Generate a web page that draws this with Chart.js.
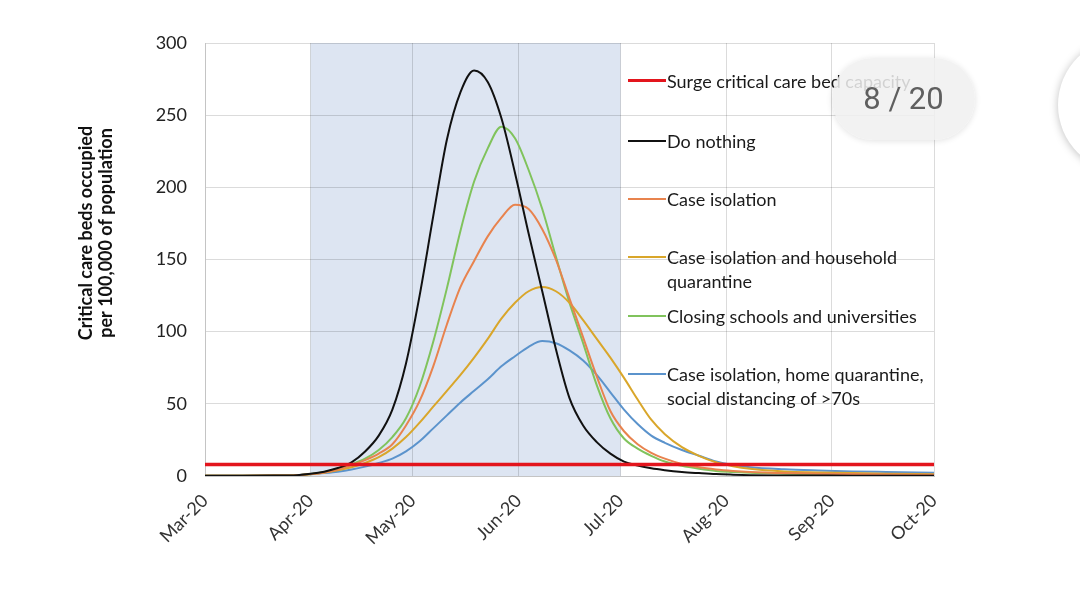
<!DOCTYPE html>
<html>
<head>
<meta charset="utf-8">
<script src="https://cdn.jsdelivr.net/npm/chart.js@4.4.0/dist/chart.umd.min.js"></script>
<style>
  body { margin: 0; background: #fff; width: 1080px; height: 603px; overflow: hidden; position: relative; font-family: Lato, 'Noto Sans', sans-serif; }
  #chart { position: absolute; left: 0; top: 0; }
  .item { position: absolute; left: 628px; color: #1a1a1a; font-size: 18px; line-height: 24px; white-space: nowrap; }
  .item .mark { position: absolute; left: 0; top: 11px; width: 38px; height: 2px; }
  .item .txt { position: absolute; left: 39px; top: 0; }
  #badge { position: absolute; left: 832px; top: 58px; width: 143px; height: 82px; border-radius: 41px;
           background: rgba(240,240,240,0.86); box-shadow: 0 1px 6px rgba(0,0,0,0.12);
           font-family: Roboto, sans-serif; font-size: 31px; color: #5f5f5f; text-align: center; line-height: 82px; }
  #knob { position: absolute; left: 1058px; top: 38px; width: 134px; height: 134px; border-radius: 50%;
          background: #fff; box-shadow: 0 1px 8px rgba(0,0,0,0.25); }
</style>
</head>
<body>
<canvas id="chart" width="1080" height="603"></canvas>
<div id="legend"></div>
<div id="badge">8 / 20</div>
<div id="knob"></div>
<script>
// x axis: days since 1 March 2020
const monthLabels = ['Mar-20', 'Apr-20', 'May-20', 'Jun-20', 'Jul-20', 'Aug-20', 'Sep-20', 'Oct-20'];
const monthDays = [0, 31, 61, 92, 122, 153, 184, 214];

// shaded period (Apr-20 to Jul-20)
const shadeStart = 31;
const shadeEnd = 122;

const surgeCapacity = 8;

const days = [0, 10, 20, 27, 31, 35, 39, 43, 47, 51, 55, 59, 63, 67, 71, 75, 79, 83, 87, 91, 95,
  99, 103, 107, 111, 115, 119, 123, 127, 131, 135, 140, 145, 150, 155, 160, 170, 180, 190, 200, 214];

const doNothing = [0.2, 0.2, 0.3, 0.6, 1.5, 3, 5.5, 9.5, 17, 28, 46, 78, 125, 180, 233, 266, 281, 273, 248, 210, 168,
  128, 88, 54, 35, 23.5, 15.5, 10, 7.3, 5.3, 4, 2.8, 2, 1.3, 0.9, 0.6, 0.4, 0.3, 0.2, 0.2, 0.1];

const caseIsolation = [0.2, 0.2, 0.3, 0.6, 1.3, 2.5, 4.5, 7.5, 11, 15.5, 22, 35, 52, 76, 105, 131, 149, 166, 179, 188, 185,
  171, 150, 123, 96, 69, 45, 31, 22, 16, 12, 8.3, 6, 4.5, 3.5, 2.8, 2, 1.6, 1.3, 1, 0.8];

const householdQuarantine = [0.2, 0.2, 0.3, 0.6, 1.2, 2.3, 4, 6, 9, 13, 19, 27, 37, 48, 59, 70, 82, 95, 109, 120, 128,
  131, 128, 120, 108, 95, 82, 68, 53, 39, 29, 20, 14, 9.5, 6.8, 5, 3.2, 2.5, 2, 1.6, 1.2];

const closingSchools = [0.2, 0.2, 0.3, 0.6, 1.4, 2.8, 5, 8, 12, 18, 27, 40, 62, 93, 130, 170, 204, 227, 242, 234, 212,
  185, 152, 120, 92, 63, 40, 26, 19, 14, 10, 7, 5, 3.5, 2.8, 2.2, 1.6, 1.2, 1, 0.8, 0.6];

const socialDistancing = [0.2, 0.2, 0.3, 0.6, 1.2, 2, 3, 4.5, 6.5, 9, 12, 17, 24, 33, 42, 51, 59, 67, 76, 83, 89.5,
  93.5, 92, 87, 80, 70, 58, 46, 36, 28, 23, 18, 14, 10, 7.6, 6, 4.6, 3.8, 3.2, 2.8, 2.3];

const legendNames = [
  'Surge critical care bed capacity',
  'Do nothing',
  'Case isolation',
  'Case isolation and household<br>quarantine',
  'Closing schools and universities',
  'Case isolation, home quarantine,<br>social distancing of >70s'
];
const legendRows = [81, 141, 199, 257, 316, 374];
const colors = ['#e3151d', '#111111', '#e8834e', '#d9a62a', '#80c35c', '#5b93cc'];

const points = (arr) => arr.map((v, i) => ({ x: days[i], y: v }));

// legend drawn as html, sits inside the plot
const legendDiv = document.getElementById('legend');
legendNames.forEach((name, i) => {
  const item = document.createElement('div');
  item.className = 'item';
  item.style.top = (legendRows[i] - 12) + 'px';
  item.innerHTML = '<div class="mark" style="background:' + colors[i] + ';' + (i === 0 ? 'height:3px;top:10px;' : '') + '"></div>' +
    '<div class="txt">' + name + '</div>';
  legendDiv.append(item);
});

const shadePlugin = {
  id: 'shade',
  beforeDraw(chart) {
    const { ctx, chartArea, scales } = chart;
    const x1 = scales.x.getPixelForValue(shadeStart);
    const x2 = scales.x.getPixelForValue(shadeEnd);
    ctx.save();
    ctx.fillStyle = '#dde5f2';
    ctx.fillRect(x1, chartArea.top, x2 - x1, chartArea.bottom - chartArea.top);
    ctx.restore();
  }
};

const yTitlePlugin = {
  id: 'ytitle',
  afterDraw(chart) {
    const ctx = chart.ctx;
    ctx.save();
    ctx.translate(96, 233);
    ctx.rotate(-Math.PI / 2);
    ctx.font = 'bold 18px Lato, sans-serif';
    ctx.fillStyle = '#111';
    ctx.textAlign = 'center';
    ctx.textBaseline = 'middle';
    ctx.fillText('Critical care beds occupied', 0, -10);
    ctx.fillText('per 100,000 of population', 0, 10);
    ctx.restore();
  }
};

const line = (label, arr, color) => ({
  label: label,
  data: points(arr),
  borderColor: color,
  borderWidth: 2,
  pointRadius: 0,
  cubicInterpolationMode: 'monotone',
  fill: false
});

const ctx = document.getElementById('chart');
const myChart = new Chart(ctx, {
  type: 'line',
  data: {
    datasets: [
      {
        label: legendNames[0],
        data: [{ x: monthDays[0], y: surgeCapacity }, { x: monthDays[monthDays.length - 1], y: surgeCapacity }],
        borderColor: colors[0],
        borderWidth: 3.5,
        pointRadius: 0
      },
      line('Do nothing', doNothing, colors[1]),
      line('Case isolation', caseIsolation, colors[2]),
      line('Case isolation and household quarantine', householdQuarantine, colors[3]),
      line('Closing schools and universities', closingSchools, colors[4]),
      line('Case isolation, home quarantine, social distancing of >70s', socialDistancing, colors[5])
    ]
  },
  options: {
    responsive: false,
    animation: false,
    layout: { padding: { top: 43, right: 146, left: 0, bottom: 0 } },
    plugins: {
      legend: { display: false },
      tooltip: { enabled: false }
    },
    scales: {
      x: {
        type: 'linear',
        min: 0,
        max: 214,
        afterBuildTicks: (scale) => { scale.ticks = monthDays.map(v => ({ value: v })); },
        afterFit: (scale) => { scale.height = 127; },
        ticks: {
          autoSkip: false,
          minRotation: 45,
          maxRotation: 45,
          padding: 14,
          color: '#333',
          font: { family: 'Lato', size: 18 },
          callback: (v) => monthLabels[monthDays.indexOf(v)]
        },
        grid: { color: 'rgba(0,0,0,0.14)', drawTicks: false },
        border: { color: '#c4c4c4' }
      },
      y: {
        min: 0,
        max: 300,
        afterFit: (scale) => { scale.width = 205; },
        ticks: {
          stepSize: 50,
          padding: 18,
          color: '#222',
          font: { family: 'Lato', size: 18 }
        },
        grid: { color: 'rgba(0,0,0,0.14)', drawTicks: false },
        border: { color: '#c4c4c4' }
      }
    }
  },
  plugins: [shadePlugin, yTitlePlugin]
});
</script>
</body>
</html>
